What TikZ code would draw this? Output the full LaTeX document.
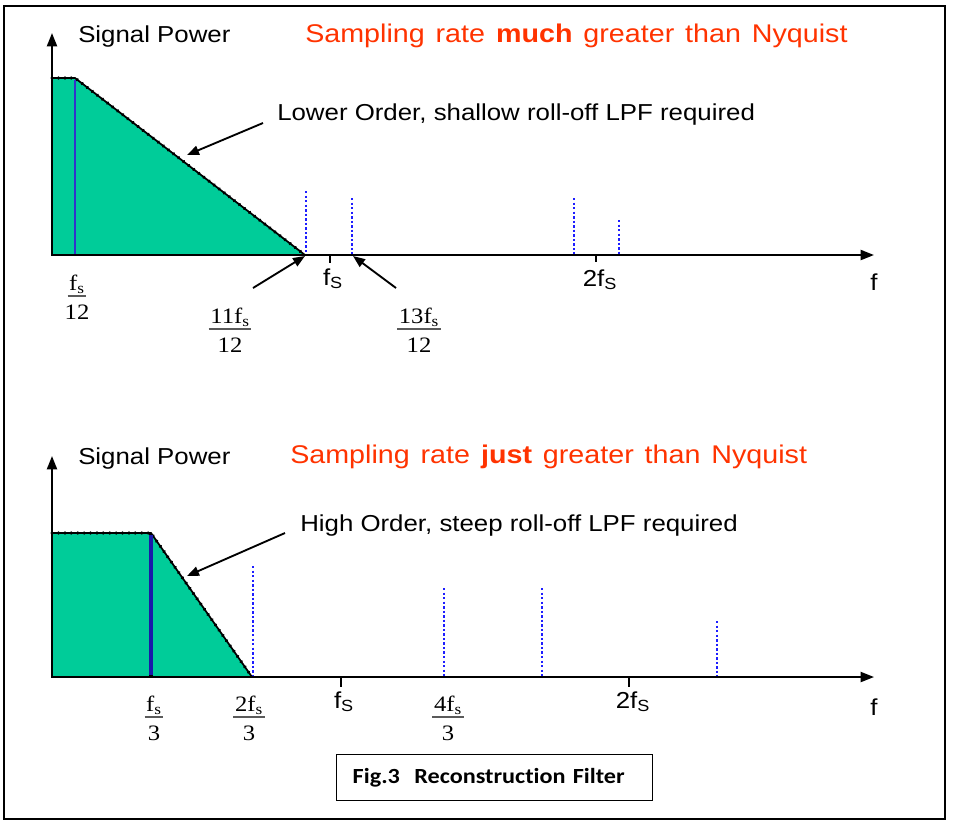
\documentclass[tikz,border=0pt]{standalone}
\usepackage{fontspec}
\setmainfont{Liberation Sans}[FakeStretch=1.12]
\newfontfamily\tms{Liberation Serif}[FakeStretch=1.12]
\newfontfamily\capf{Carlito}[FakeStretch=1.12, Ligatures=NoCommon]
\usetikzlibrary{arrows.meta}
\definecolor{grn}{RGB}{0,204,153}
\definecolor{redt}{RGB}{255,51,0}
\definecolor{dotblue}{RGB}{30,30,255}
\definecolor{blueA}{RGB}{51,51,204}
\definecolor{blueB}{RGB}{25,25,170}
\definecolor{barc}{RGB}{90,90,90}
\newcommand\widesp{\spaceskip=8.2pt\relax}
\newcommand\fracl[5]{%
  \coordinate (#1b) at (#2,#3);
  \node[frc, anchor=base] (#1n) at (#2,#3-6) {#4};
  \node[frc, anchor=base] (#1d) at (#2,#3+23) {#5};
  \draw[fbar] ([xshift=-1pt]#1n.west |- #1b) -- ([xshift=1pt]#1n.east |- #1b);
}
\begin{document}
\begin{tikzpicture}[x=0.75pt,y=-0.75pt,
  frame/.style={line width=1.8pt},
  axisline/.style={line width=1.5pt, {Triangle[length=10pt,width=7.5pt]}-{Triangle[length=10pt,width=7.5pt]}},
  edgeline/.style={line width=1.3pt, black},
  dotedge/.style={line width=2.6pt, black, line cap=round, dash pattern=on 0.2pt off 4.6pt},
  bdots/.style={line width=2.1pt, dotblue, dash pattern=on 1.8pt off 1.6pt},
  tickl/.style={line width=1.3pt},
  ann/.style={line width=1.4pt, -{Triangle[length=9pt,width=7pt]}},
  lbl/.style={font=\fontsize{17.3}{20}\selectfont, inner sep=0pt},
  ttl/.style={font=\fontsize{19.2}{22}\selectfont, text=redt, inner sep=0pt},
  frc/.style={font=\tms\fontsize{16.5}{18}\selectfont, inner sep=0pt},
  fbar/.style={line width=0.8pt, barc},
]
\useasboundingbox (0,0) rectangle (953,826);
\draw[frame] (4,6) rectangle (945,819);

% ---------------- top plot ----------------
\coordinate (y1) at (52,33);
\coordinate (o1) at (52,255);
\coordinate (x1) at (874,255);
\fill[grn] (52,255) -- (52,78) -- (75,78) -- (305,255) -- cycle;
\draw[edgeline] (52,255) -- (52,78) -- (75,78) -- (305,255);
\draw[dotedge] (52,78) -- (75,78) -- (305,255);
\draw[line width=1.8pt, blueA] (75,80) -- (75,254);
\draw[bdots] (306,191) -- (306,255);
\draw[bdots] (352,198) -- (352,255);
\draw[bdots] (574,198) -- (574,255);
\draw[bdots] (619,220) -- (619,255);
\draw[axisline] (y1) -- (o1) -- (x1);
\draw[tickl] (330,255) -- (330,263);
\draw[tickl] (596,255) -- (596,262);

\node[lbl, anchor=base west] (sp1) at (78,42) {Signal Power};
\node[ttl, anchor=base west] (t1) at (305,42) {\widesp Sampling rate \textbf{much} greater than Nyquist};
\node[lbl, anchor=base west] (lo) at (277,120) {Lower Order, shallow roll-off LPF required};
\node[lbl, anchor=base] (fs1) at (333,285) {f\textsubscript{S}};
\node[lbl, anchor=base] (tfs1) at (600,286) {2f\textsubscript{S}};
\node[lbl, anchor=base] (f1) at (874,290) {f};

\fracl{q1}{77}{296}{f\textsubscript{s}}{12}
\fracl{q2}{230}{329}{11f\textsubscript{s}}{12}
\fracl{q3}{419}{329}{13f\textsubscript{s}}{12}

\coordinate (a1s) at (263,123);
\coordinate (a1e) at (187,155);
\draw[ann] (a1s) -- (a1e);
\coordinate (a2s) at (253,288);
\coordinate (a2e) at (305,256);
\draw[ann] (a2s) -- (a2e);
\coordinate (a3s) at (396,288);
\coordinate (a3e) at (353,256);
\draw[ann] (a3s) -- (a3e);

% ---------------- bottom plot ----------------
\coordinate (y2) at (52,456);
\coordinate (o2) at (52,677);
\coordinate (x2) at (874,677);
\fill[grn] (52,677) -- (52,533) -- (151,533) -- (252,677) -- cycle;
\draw[edgeline] (52,677) -- (52,533) -- (151,533) -- (252,677);
\draw[dotedge] (52,533) -- (151,533) -- (252,677);
\draw[line width=3.2pt, black] (151,534) -- (151,676);
\draw[line width=2.3pt, blueB] (151,535) -- (151,675);
\draw[bdots] (253,566) -- (253,677);
\draw[bdots] (444,588) -- (444,677);
\draw[bdots] (542,588) -- (542,677);
\draw[bdots] (717,621) -- (717,677);
\draw[axisline] (y2) -- (o2) -- (x2);
\draw[tickl] (341,677) -- (341,687);
\draw[tickl] (629,677) -- (629,687);

\node[lbl, anchor=base west] (sp2) at (78,464) {Signal Power};
\node[ttl, anchor=base west] (t2) at (290,463) {\widesp Sampling rate \textbf{just} greater than Nyquist};
\node[lbl, anchor=base west] (hi) at (300,531) {High Order, steep roll-off LPF required};
\node[lbl, anchor=base] (fs2) at (344,708) {f\textsubscript{S}};
\node[lbl, anchor=base] (tfs2) at (633,708) {2f\textsubscript{S}};
\node[lbl, anchor=base] (f2) at (874,715) {f};

\fracl{r1}{154}{717}{f\textsubscript{s}}{3}
\fracl{r2}{249}{717}{2f\textsubscript{s}}{3}
\fracl{r3}{448}{717}{4f\textsubscript{s}}{3}

\coordinate (b1s) at (285,533);
\coordinate (b1e) at (187,576);
\draw[ann] (b1s) -- (b1e);

% ---------------- caption ----------------
\node[draw, line width=1.1pt, anchor=north west, text width=213pt, inner xsep=12pt,
      minimum height=34.5pt, align=left, font=\capf\bfseries\fontsize{16.2}{19}\selectfont]
      (cap) at (336,754) {Fig.3~~Reconstruction Filter};
\end{tikzpicture}
\end{document}
